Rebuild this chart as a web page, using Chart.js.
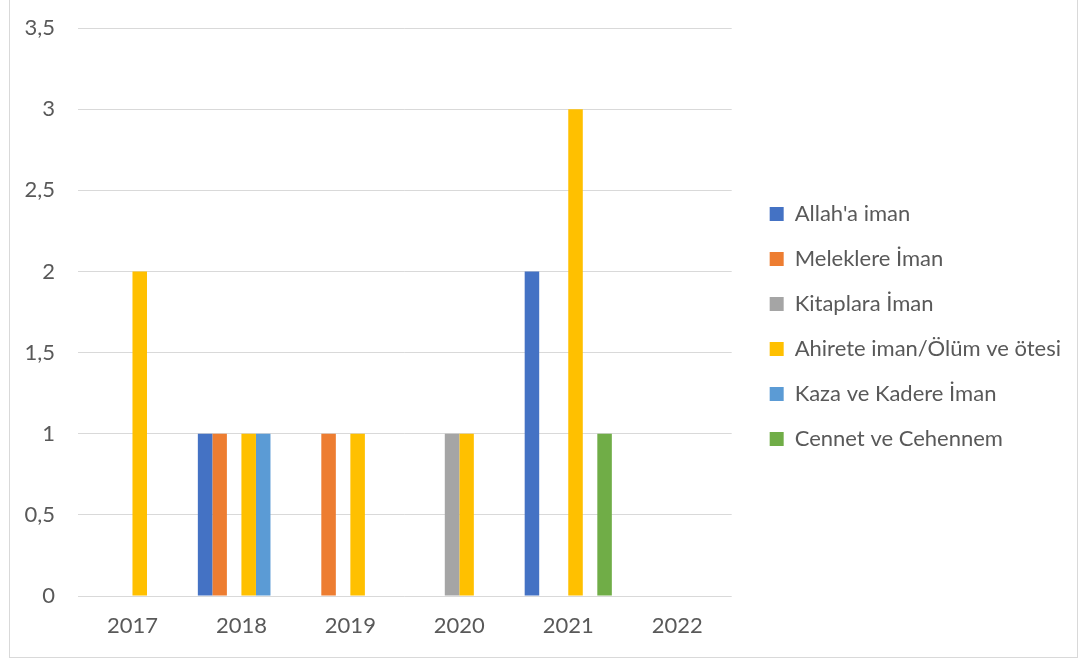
<!DOCTYPE html>
<html>
<head>
<meta charset="utf-8">
<script src="https://cdn.jsdelivr.net/npm/chart.js@4/dist/chart.umd.min.js"></script>
<style>
  body { margin: 0; background: #fff; }
  #box { position: absolute; left: 9px; top: -1px; border: 1px solid #d9d9d9; }
</style>
</head>
<body>
<div id="box"><canvas id="grafik" width="1067" height="657"></canvas></div>
<script>
// yillar ve konular
var yillar = ["2017", "2018", "2019", "2020", "2021", "2022"];
var allahaIman = [0, 1, 0, 0, 2, 0];
var meleklereIman = [0, 1, 1, 0, 0, 0];
var kitaplaraIman = [0, 0, 0, 1, 0, 0];
var ahireteIman = [2, 1, 1, 1, 3, 0];
var kazaKadere = [0, 1, 0, 0, 0, 0];
var cennetCehennem = [0, 0, 0, 0, 1, 0];

var yaziRengi = "#595959";
var font = {family: "Lato", size: 22};

new Chart("grafik", {
  type: "bar",
  data: {
    labels: yillar,
    datasets: [
      {label: "Allah'a iman", data: allahaIman, backgroundColor: "#4472C4"},
      {label: "Meleklere İman", data: meleklereIman, backgroundColor: "#ED7D31"},
      {label: "Kitaplara İman", data: kitaplaraIman, backgroundColor: "#A5A5A5"},
      {label: "Ahirete iman/Ölüm ve ötesi", data: ahireteIman, backgroundColor: "#FFC000"},
      {label: "Kaza ve Kadere İman", data: kazaKadere, backgroundColor: "#5B9BD5"},
      {label: "Cennet ve Cehennem", data: cennetCehennem, backgroundColor: "#70AD47"}
    ]
  },
  options: {
    responsive: false,
    animation: false,
    categoryPercentage: 0.8,
    barPercentage: 1,
    layout: {padding: {left: 0, top: 28, bottom: 1, right: 6}},
    scales: {
      x: {
        grid: {display: false, drawTicks: false},
        border: {display: false},
        ticks: {color: yaziRengi, font: {family: "Lato", size: 22, lineHeight: 1}, padding: 19, maxRotation: 0}
      },
      y: {
        min: 0, max: 3.5,
        grid: {color: "#d9d9d9", lineWidth: 1, drawTicks: false},
        border: {display: false},
        ticks: {
          stepSize: 0.5, color: yaziRengi, padding: 23,
          font: {family: "Lato", size: 22, lineHeight: 0.4},
          callback: function(v) { return String(v).replace(".", ","); }
        },
        afterFit: function(s) { s.width = 68; }
      },
      // legend ile grafik arasindaki bosluk
      bosluk: {
        position: "right",
        grid: {display: false},
        border: {display: false},
        ticks: {display: false},
        afterFit: function(s) { s.width = 15; }
      }
    },
    plugins: {
      tooltip: {enabled: false},
      legend: {
        position: "right",
        align: "start",
        maxWidth: 400,
        title: {display: true, text: "", font: {size: 10}, padding: {top: 140, bottom: 0}},
        labels: {boxWidth: 14, boxHeight: 14, padding: 23, color: yaziRengi, font: font}
      }
    }
  }
});
</script>
</body>
</html>
